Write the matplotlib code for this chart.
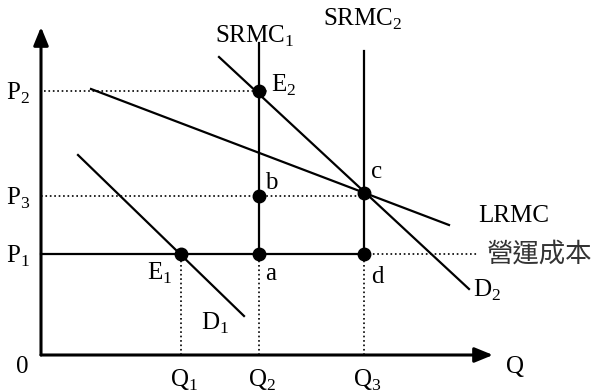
# Capacity expansion diagram: SRMC / LRMC with two demand curves
import matplotlib.pyplot as plt

plt.rcParams['font.family'] = ['Liberation Serif', 'Noto Sans CJK TC']
plt.rcParams['mathtext.fontset'] = 'custom'
plt.rcParams['mathtext.rm'] = 'Liberation Serif'

# quantities and prices on the axes
q_vals = [140, 218, 323]
q_labels = ['Q$_1$', 'Q$_2$', 'Q$_3$']
p_vals = [264, 159, 101]
p_labels = ['P$_2$', 'P$_3$', 'P$_1$']

# curves (Q, P end points)
lrmc_q = [50, 408]
lrmc_p = [266, 130]
d2_q = [178, 428]
d2_p = [298, 66]
d1_q = [37, 203]
d1_p = [200, 39]
srmc1_p = [101, 312]
srmc2_p = [101, 304]

# marked points
pt_names = ['E$_2$', 'b', 'a', 'E$_1$', 'c', 'd']
pt_q = [218, 218, 218, 140, 323, 323]
pt_p = [264, 159, 101, 101, 162, 101]

fig = plt.figure(figsize=(5.96, 3.92), dpi=100)
ax = fig.add_axes([0, 0, 1, 1])
ax.set_xlim(-41, 555)
ax.set_ylim(-37, 355)
ax.axis('off')

# axes with arrows
ax.annotate('', xy=(452, 0), xytext=(0, 0),
            arrowprops=dict(arrowstyle='-|>,head_length=1.1,head_width=0.45',
                            lw=2.2, color='black', shrinkA=0, shrinkB=0))
ax.annotate('', xy=(0, 328), xytext=(0, 0),
            arrowprops=dict(arrowstyle='-|>,head_length=1.1,head_width=0.45',
                            lw=2.2, color='black', shrinkA=0, shrinkB=0))

# dotted guides
ax.plot([3, 227], [p_vals[0]] * 2, ':', color='black', lw=1.2)
ax.plot([0, q_vals[2]], [p_vals[1]] * 2, ':', color='black', lw=1.2)
ax.plot([q_vals[2], 436], [p_vals[2]] * 2, ':', color='black', lw=1.2)
for q in q_vals:
    ax.plot([q, q], [0, p_vals[2]], ':', color='black', lw=1.2)

# solid lines
ax.plot([0, q_vals[2]], [p_vals[2]] * 2, color='black', lw=1.6)
ax.plot([q_vals[1]] * 2, srmc1_p, color='black', lw=1.6)
ax.plot([q_vals[2]] * 2, srmc2_p, color='black', lw=1.6)
ax.plot(lrmc_q, lrmc_p, color='black', lw=1.6)
ax.plot(d2_q, d2_p, color='black', lw=1.6)
ax.plot(d1_q, d1_p, color='black', lw=1.6)

ax.plot(pt_q, pt_p, 'o', color='black', ms=9)

fs = 18
for p, lab in zip(p_vals, p_labels):
    ax.text(-23, p - 9, lab, fontsize=fs, ha='center', va='baseline')
for q, lab in zip(q_vals, q_labels):
    ax.text(q + 3, -32, lab, fontsize=fs, ha='center', va='baseline')
ax.text(-19, -18, '0', fontsize=fs, ha='center', va='baseline')
ax.text(474, -18, 'Q', fontsize=fs, ha='center', va='baseline')

label_off = [(25, -1), (12, 7), (12, -26), (-21, -26), (13, 15), (13, -29)]
for q, p, name, (dx, dy) in zip(pt_q, pt_p, pt_names, label_off):
    ax.text(q + dx, p + dy, name, fontsize=fs, ha='center', va='baseline')

ax.text(q_vals[1] - 4, 312, 'SRMC$_1$', fontsize=fs, ha='center', va='baseline')
ax.text(q_vals[2] - 1, 329, 'SRMC$_2$', fontsize=fs, ha='center', va='baseline')
ax.text(473, 133, 'LRMC', fontsize=fs, ha='center', va='baseline')
ax.text(446, 58, 'D$_2$', fontsize=fs, ha='center', va='baseline')
ax.text(174, 25, 'D$_1$', fontsize=fs, ha='center', va='baseline')
ax.text(499, 101, '營運成本', fontsize=19, ha='center', va='center',
        family=['Noto Sans CJK TC'], color='#333333')

fig.savefig('out.png', dpi=100)
